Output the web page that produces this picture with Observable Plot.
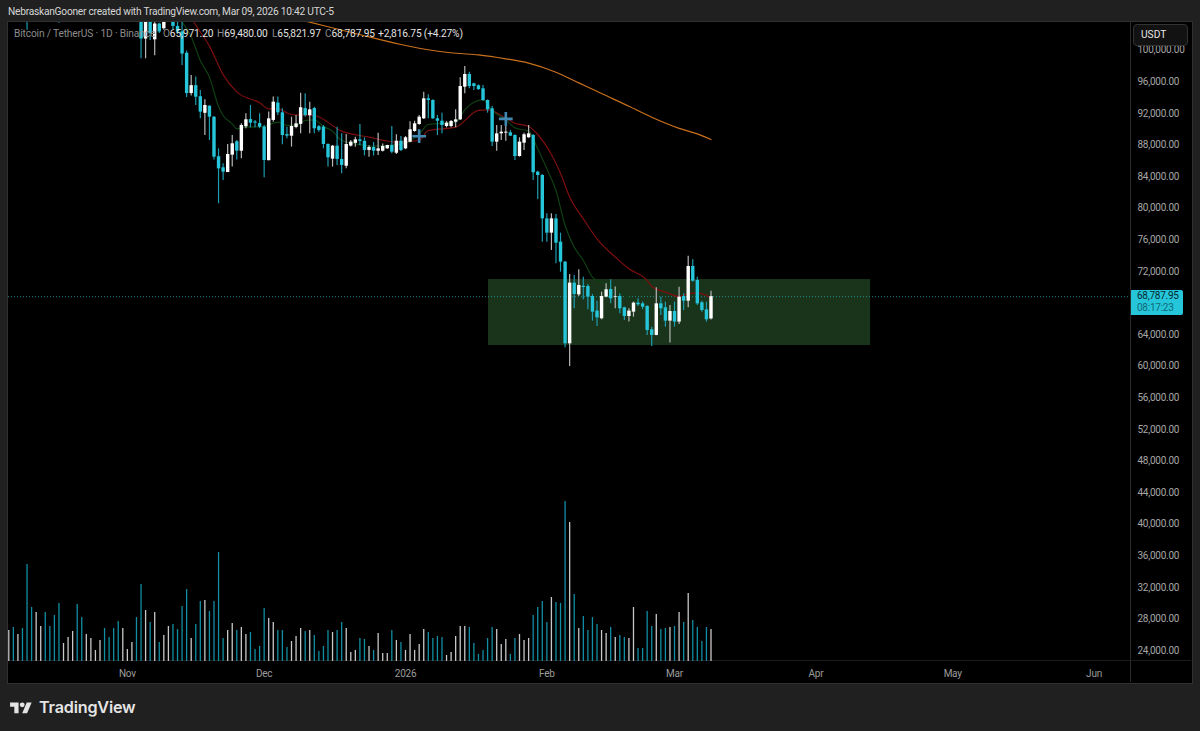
<!DOCTYPE html>
<html><head><meta charset="utf-8">
<script src="https://cdn.jsdelivr.net/npm/d3@7"></script>
<script src="https://cdn.jsdelivr.net/npm/@observablehq/plot@0.6"></script>
<style>
html,body{margin:0;padding:0;background:#202020;width:1200px;height:731px;overflow:hidden;font-family:Roboto,sans-serif}
.a{position:absolute;white-space:nowrap}
#panel{left:7px;top:21px;width:1184px;height:661px;background:#000;border:1px solid #303030}
#vsep{left:1130px;top:22px;width:1px;height:660px;background:#2a2a2a}
#hsep{left:8px;top:660px;width:1183px;height:1px;background:#1c1c1c}
#chart{left:0;top:0}
#chart svg{display:block}
#head{left:8px;top:4px;font-size:10.2px;letter-spacing:-.24px;color:#d6d6d6;line-height:16px}
.leg{top:26px;font-size:10.2px;letter-spacing:-.15px;line-height:15px;color:#e2e2e2}
.leg i{font-style:normal;color:#8c8c8c}
#usdt{left:1133px;top:24px;width:46px;height:19.5px;padding-left:7px;background:#121212;border:1px solid #333;border-radius:4px;font-size:10.2px;line-height:20px;color:#e6e6e6}
#last{left:1131px;top:290px;width:46px;height:25px;padding-left:6px;background:#26c6da;border-radius:0 2px 2px 0;font-size:10px;letter-spacing:-.25px;line-height:12px;color:#04282e}
#last span{color:#0c6a78}
#logo{left:10px;top:700px}
#brand{left:39px;top:696px;font-family:Inter,sans-serif;font-weight:600;font-size:16.2px;line-height:22px;color:#e4e4e4;letter-spacing:-.2px}
</style></head><body>
<div class="a" id="panel"></div>
<div class="a" id="vsep"></div>
<div class="a" id="hsep"></div>
<div class="a" id="chart"></div>
<div class="a" id="head">NebraskanGooner created with TradingView.com, Mar 09, 2026 10:42 UTC-5</div>
<div class="a leg" style="left:14px"><i>Bitcoin / TetherUS · 1D · Binance</i></div>
<div class="a leg" style="left:163px"><i>O</i>65,971.20</div>
<div class="a leg" style="left:217px"><i>H</i>69,480.00</div>
<div class="a leg" style="left:272px"><i>L</i>65,821.97</div>
<div class="a leg" style="left:325px"><i>C</i>68,787.95</div>
<div class="a leg" style="left:378px">+2,816.75 (+4.27%)</div>
<div class="a" id="usdt">USDT</div>
<div class="a" id="last">68,787.95<br><span>08:17:23</span></div>
<svg class="a" id="logo" width="22" height="17" viewBox="0 0 36 28"><path fill="#e4e4e4" d="M14 22H7V11H0V4h14v18zM28 22h-8l7.5-18h8L28 22z"/><circle fill="#e4e4e4" cx="20" cy="8" r="4"/></svg>
<div class="a" id="brand">TradingView</div>
<script>
// Prices are in thousands of USDT. Days are counted from the first bar, 2025-10-06.
const firstDay = Date.UTC(2025, 9, 6);
const dayDate = i => new Date(firstDay + i * 864e5);

// Candles from bar 29 (2025-11-04) to the last bar (2026-03-09)
const candleStart = 29;
const opens = [106.8,101.4,103.9,101.3,103.3,102.7,104.7,106.0,103.0,102.3,99.6,94.5,95.5,94.1,92.0,92.9,91.5,86.5,85.1,84.5,86.7,88.4,87.2,90.3,91.2,90.9,90.7,90.25,86.0,91.1,93.3,92.06,89.3,89.1,90.2,90.6,92.6,91.7,92.6,90.3,90.25,88.05,86.2,87.84,86.16,85.3,87.84,88.2,88.64,88.45,87.3,87.67,87.2,87.2,87.5,87.92,86.95,88.47,87.5,88.34,89.7,90.58,91.3,93.83,93.62,91.3,91.0,90.33,90.33,90.88,91.17,95.31,96.91,95.73,95.48,95.1,93.62,92.57,88.35,89.4,89.49,89.53,89.19,86.53,88.22,88.9,89.19,84.55,84.13,78.64,76.83,78.64,75.69,73.16,62.82,70.5,69.02,70.1,70.08,68.81,66.96,65.99,68.73,69.7,68.73,68.81,67.38,66.28,66.83,67.97,67.88,67.55,64.6,63.88,67.88,67.38,65.69,66.91,65.57,68.81,68.22,72.61,70.84,68.01,67.12,65.97];
const highs = [108.0,104.5,104.0,103.9,103.4,105.5,106.5,107.0,105.3,104.0,99.9,96.8,96.6,94.9,93.7,92.95,91.6,87.5,85.6,88.05,89.2,88.56,90.67,91.94,93.0,91.1,91.94,90.46,92.15,94.05,94.05,92.57,90.25,91.51,91.72,94.55,94.47,93.41,92.78,90.46,90.46,88.14,87.93,90.25,89.4,89.32,88.56,88.98,90.59,88.9,87.9,88.3,89.49,88.1,87.95,90.33,89.27,89.06,89.06,90.92,91.0,91.72,94.68,94.34,93.7,91.72,92.02,90.96,91.09,92.44,96.49,97.92,97.2,95.8,95.6,95.52,93.7,92.86,90.46,90.46,90.88,89.82,89.27,88.9,89.49,90.46,89.32,84.68,84.26,79.28,79.28,79.19,76.83,73.24,71.6,71.47,72.19,71.26,70.33,69.07,68.22,69.36,70.42,70.92,70.0,69.15,67.46,67.25,68.1,68.52,68.1,67.63,64.93,69.91,68.73,68.1,67.67,68.1,69.99,69.15,73.92,73.45,71.26,68.22,68.1,69.48];
const lows = [98.9,98.9,101.2,99.3,102.1,102.5,104.5,102.6,102.0,98.05,94.0,94.2,93.0,91.3,89.2,88.56,86.1,80.55,83.5,84.5,85.2,86.1,86.24,90.04,90.16,90.16,90.04,83.83,86.0,90.88,91.72,88.01,88.77,87.72,90.04,89.4,91.51,89.4,89.4,89.6,87.5,85.19,85.19,85.4,84.34,84.97,87.72,87.7,87.9,86.6,86.45,86.6,86.66,87.1,87.45,86.87,86.78,87.16,87.4,88.26,89.6,90.5,91.2,91.3,91.2,89.19,89.4,90.16,90.16,90.16,91.09,94.47,95.1,94.89,94.9,93.54,92.02,87.8,87.21,88.56,88.47,89.06,86.03,86.45,87.29,88.85,83.5,81.09,75.69,75.69,74.64,72.95,71.89,62.32,59.95,67.25,68.8,68.39,67.13,65.69,65.02,65.86,68.65,67.88,67.25,66.62,65.78,65.57,66.2,67.55,67.13,63.88,62.49,63.85,66.41,64.93,62.91,64.93,65.27,67.04,67.38,70.63,67.67,66.83,65.57,65.82];
const closes = [101.4,103.9,102.06,103.3,102.3,104.9,106.0,103.0,102.3,99.5,94.5,95.5,94.04,92.15,92.99,91.51,86.45,84.97,84.55,86.79,88.14,87.21,90.46,91.18,90.76,90.76,90.25,86.03,91.3,93.41,92.06,89.19,89.11,90.33,90.67,92.7,91.72,92.44,90.04,89.83,88.05,86.37,87.84,86.16,85.4,88.05,88.35,88.64,88.45,87.3,87.67,87.2,87.5,87.8,87.92,87.08,88.47,87.29,88.9,89.91,90.67,91.51,93.83,93.62,91.3,91.0,90.46,90.75,90.96,91.17,95.39,96.91,95.39,95.39,95.0,93.62,92.44,88.35,89.4,89.61,89.61,89.11,86.53,88.35,89.28,89.4,84.47,84.13,78.64,76.83,78.64,75.56,73.16,62.82,70.5,69.07,70.21,69.95,68.73,66.83,66.11,68.81,69.66,68.52,68.81,67.25,66.28,66.96,67.97,67.76,67.46,64.51,63.88,67.88,67.25,65.69,66.91,65.57,68.73,68.22,72.61,70.75,67.88,67.04,65.86,68.79];
// The two October wicks that reach into the top of the chart
const octoberBars = [4, 11];
const octoberOpens = [121.7, 108.1];
const octoberHighs = [122.5, 109.2];
const octoberLows = [102.5, 103.4];
const octoberCloses = [113.0, 106.4];

// Volume in thousands of coins, one value per bar; 1 = up bar, 0 = down bar
const volumes = [31,34,27,33,97,54,49,35,49,35,46,58,18,24,30,57,44,27,23,11,21,33,24,33,40,33,12,19,44,77,51,39,49,19,26,35,37,32,55,72,23,37,60,61,50,60,109,23,31,38,31,34,27,29,12,15,53,43,39,31,31,14,20,25,33,30,31,26,10,15,31,29,31,39,33,9,11,23,22,15,11,28,8,8,31,21,19,11,27,11,17,32,29,23,25,24,6,9,25,35,35,34,18,7,11,23,34,32,17,22,7,23,27,21,23,46,54,60,39,64,59,58,160,139,67,33,45,31,44,37,31,28,34,24,26,24,23,54,13,13,50,35,47,32,33,34,35,49,39,68,41,34,20,34,32];
const barUp = [1,0,1,0,0,0,1,1,0,0,0,0,1,1,1,0,0,1,1,1,1,0,0,0,0,1,1,1,0,0,1,0,1,0,1,1,0,0,0,0,1,0,0,1,0,0,0,0,1,1,0,1,1,0,0,0,0,1,1,0,0,0,1,1,1,0,1,0,0,0,0,1,0,0,1,1,1,0,0,1,0,1,1,1,0,1,0,1,1,1,1,1,0,0,0,0,1,1,1,1,1,0,0,0,0,0,0,1,1,1,0,0,1,1,1,0,0,0,0,1,0,0,0,1,0,1,0,0,0,0,1,1,0,1,0,0,1,1,0,0,0,0,1,0,0,1,0,1,0,1,0,0,0,0,1];

// Moving averages read at selected bars
const redBars = [38,41,44,47,50,55,57,59,62,67,73,79,85,90,92,98,103,105,109,111,114,116,119,121,123,126,129,133,136,140,141,144,147,149,151,154];
const redValues = [106.0,103.16,100.5,96.9,94.72,93.33,92.57,92.57,91.85,91.72,89.74,88.98,88.35,88.56,89.82,90.25,92.36,92.44,91.39,90.75,90.33,89.32,86.79,84.42,81.39,78.64,76.11,73.79,72.32,70.84,70.08,69.36,68.81,69.15,69.28,68.65];
const greenBars = [36,38,40,42,44,46,47,49,50,52,56,58,59,61,63,65,67,69,71,73,76,80,87,90,92,98,100,102,104,106,109,111,114,116,118,120,122,124,126,128,130,132,134,136,140,142,146,150,154];
const greenValues = [105.0,103.54,101.72,98.69,96.58,92.86,91.72,90.67,90.04,90.25,90.33,90.75,90.88,90.46,90.46,91.09,91.18,90.33,89.74,88.56,88.14,87.84,88.2,89.4,90.58,90.88,92.44,93.41,93.7,92.36,91.17,90.16,89.74,87.5,84.97,82.23,77.8,75.06,73.37,71.26,70.63,70.33,69.36,68.65,67.46,67.13,67.38,67.6,68.1];
const orangeBars = [60,66,76,86,93,98,103,109,114,120,125,130,136,141,147,151,154];
const orangeValues = [104.4,103.54,102.1,100.71,99.95,99.6,99.4,98.9,98.35,97.2,95.85,94.5,92.9,91.5,90.1,89.4,88.68];

// Marker crosses
const crossBars = [90, 109];
const crossValues = [89.1, 91.3];

// Accumulation zone
const zoneStart = 105.2, zoneEnd = 189, zoneLow = 62.6, zoneHigh = 70.96;
const lastClose = 68.78795;

// Ticks (68,000 sits behind the last-price label in the reference)
const priceTicks = [24,28,32,36,40,44,48,52,56,60,64,72,76,80,84,88,92,96,100];
const timeTicks = ["2025-11-01","2025-12-01","2026-01-01","2026-02-01","2026-03-01","2026-04-01","2026-05-01","2026-06-01"];
const timeLabels = ["Nov","Dec","2026","Feb","Mar","Apr","May","Jun"];

// Colours
const upColor = "#ffffff", downColor = "#26c6da", upWick = "#b8b8b8", downWick = "#1c9db0";

const candles = opens.map((o, k) => ({i: candleStart + k, o, h: highs[k], l: lows[k], c: closes[k]}))
  .concat(octoberBars.map((i, k) => ({i, o: octoberOpens[k], h: octoberHighs[k], l: octoberLows[k], c: octoberCloses[k]})));
candles.forEach(d => { d.date = dayDate(d.i); d.up = d.c >= d.o; });
const yBottom = 22.608, yTop = 103.494;
const pricePerVolume = 0.1266;                 // volume pane shares the frame with the price pane
const vols = volumes.map((v, i) => ({date: dayDate(i), v, up: barUp[i] === 1}));
const series = (bars, values) => bars.map((b, k) => ({date: dayDate(b), p: values[k]}));
const lineOpt = {x: "date", y: "p", clip: true, curve: "monotone-x"};

const plot = Plot.plot({
  width: 1200, height: 731,
  marginLeft: 8, marginRight: 70, marginTop: 22, marginBottom: 70,
  style: {background: "transparent", fontFamily: "Roboto,sans-serif", fontSize: "10px", letterSpacing: "-.25px"},
  x: {type: "utc", domain: [dayDate(-0.066), dayDate(246)]},
  y: {domain: [yBottom, yTop]},
  marks: [
    Plot.rect([0], {x1: () => dayDate(zoneStart), x2: () => dayDate(zoneEnd), y1: () => zoneLow, y2: () => zoneHigh, fill: "#1a331b"}),
    Plot.ruleY([lastClose], {stroke: "#26a9ba", strokeDasharray: "1,2", strokeWidth: 1, strokeOpacity: .75}),
    Plot.ruleX(vols, {x: "date", y1: yBottom, y2: d => yBottom + d.v * pricePerVolume, stroke: d => d.up ? "#c8c8c8" : "#118ea3", strokeWidth: 1.3}),
    Plot.line(series(orangeBars, orangeValues), {...lineOpt, stroke: "#c9701c", strokeWidth: 1.2}),
    Plot.line(series(redBars, redValues), {...lineOpt, stroke: "#7d0f0f", strokeWidth: 1.2}),
    Plot.line(series(greenBars, greenValues), {...lineOpt, stroke: "#0f3f12", strokeWidth: 1.2}),
    Plot.ruleX(candles, {x: "date", y1: "l", y2: "h", clip: true, stroke: d => d.up ? upWick : downWick, strokeWidth: 1.2}),
    Plot.ruleX(candles, {x: "date", y1: "o", y2: "c", clip: true, stroke: d => d.up ? upColor : downColor, strokeWidth: 3.4}),
    Plot.dot(series(crossBars, crossValues), {x: "date", y: "p", symbol: "plus", r: 4.5, stroke: "#3f89b3", strokeWidth: 2.6}),
    Plot.axisY({anchor: "right", ticks: priceTicks, tickSize: 0, tickPadding: 7, textAnchor: "start", label: null, fill: "#a6a6a6", tickFormat: d => d3.format(",.2f")(d * 1000)}),
    Plot.axisX({ticks: timeTicks.map(s => new Date(s + "T00:00Z")), tickSize: 0, tickPadding: 8, label: null, fill: "#9c9c9c", tickFormat: (d, k) => timeLabels[k]})
  ]
});
document.getElementById("chart").appendChild(plot);
</script>
</body></html>
